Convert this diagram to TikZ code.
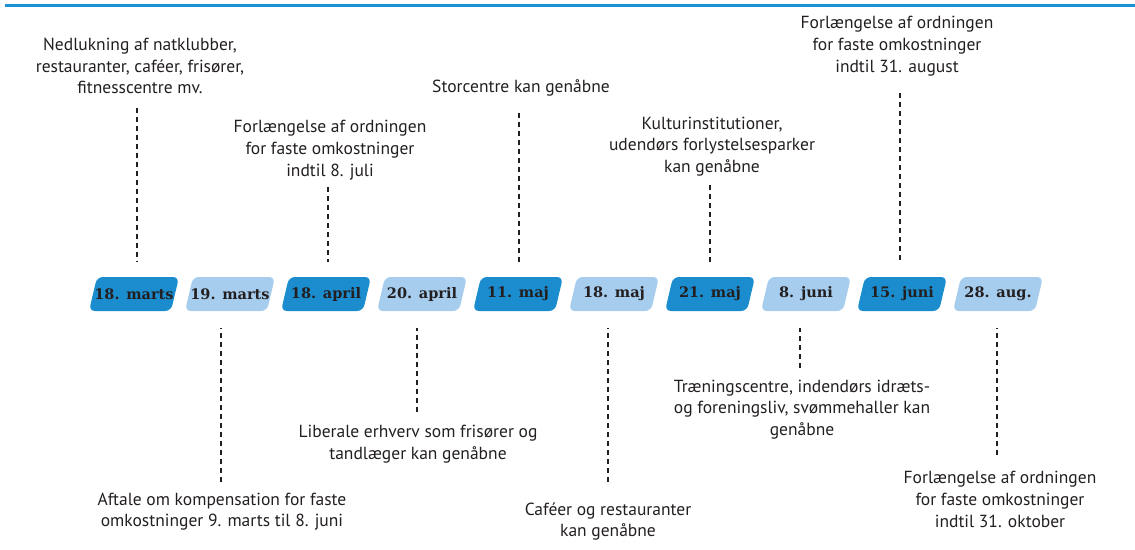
\documentclass[tikz,border=0pt]{standalone}
\usepackage{fontspec}
\setmainfont{PT Sans}
\newfontfamily\datefont{DejaVu Serif}
\definecolor{rulecol}{RGB}{26,146,212}
\definecolor{darkday}{RGB}{27,141,206}
\definecolor{lightday}{RGB}{166,205,238}
\definecolor{inkcol}{RGB}{35,31,32}
\tikzset{
  datelabel/.style={inner sep=0, minimum height=34, text=inkcol,
    font=\datefont\bfseries\fontsize{14.5}{14.5}\selectfont},
  dayshape/.style={rounded corners=6},
  note/.style={align=center, inner sep=0, text=inkcol,
    font=\fontsize{17.5}{21.7}\selectfont},
  guide/.style={draw=inkcol, line width=1.6, dash pattern=on 5 off 4},
}
\begin{document}
\begin{tikzpicture}[x=1pt,y=-1pt]
  \useasboundingbox (0,0) rectangle (1135,549);
  %%%%% top rule %%%%%
  \draw[rulecol, line width=2.2] (5,5.5) -- (1135,5.5);

  %%%%% dates %%%%%
  \foreach \x/\col/\lab [count=\i] in {134/darkday/18. marts, 230/lightday/19. marts,
      326/darkday/18. april, 422/lightday/20. april, 518/darkday/11. maj,
      614/lightday/18. maj, 710/darkday/21. maj, 806/lightday/8. juni,
      902/darkday/15. juni, 998/lightday/28. aug.}{
    \fill[\col, dayshape] (\x-45,311) -- (\x-37,277) -- (\x+45,277) -- (\x+37,311) -- cycle;
    \node[datelabel] (d\i) at (\x,294) {\lab};
  }

  %%%%% notes above %%%%%
  \node[note] (t1) at (140,66) {Nedlukning af natklubber,\\restauranter, caféer, frisører,\\fitnesscentre mv.};
  \node[note] (t3) at (330,150) {Forlængelse af ordningen\\for faste omkostninger\\indtil 8. juli};
  \node[note] (t5) at (521,88) {Storcentre kan genåbne};
  \node[note] (t7) at (712,146.5) {Kulturinstitutioner,\\udendørs forlystelsesparker\\kan genåbne};
  \node[note] (t9) at (897,46) {Forlængelse af ordningen\\for faste omkostninger\\indtil 31. august};

  %%%%% notes below %%%%%
  \node[note] (t2) at (222,511.5) {Aftale om kompensation for faste\\omkostninger 9. marts til 8. juni};
  \node[note] (t4) at (418,444) {Liberale erhverv som frisører og\\tandlæger kan genåbne};
  \node[note] (t6) at (608,521.5) {Caféer og restauranter\\kan genåbne};
  \node[note] (t8) at (802,409.5) {Træningscentre, indendørs idræts-\\og foreningsliv, svømmehaller kan\\genåbne};
  \node[note] (t10) at (1000,499.5) {Forlængelse af ordningen\\for faste omkostninger\\indtil 31. oktober};

  %%%%% dashed guides %%%%%
  \coordinate (e1) at (137,108);
  \coordinate (e3) at (328,187);
  \coordinate (e5) at (519,113);
  \coordinate (e7) at (710,185);
  \coordinate (e9) at (900,93);
  \draw[guide, shorten >=15] (e1) -- (e1 |- d1.north);
  \draw[guide, shorten >=15] (e3) -- (e3 |- d3.north);
  \draw[guide, shorten >=15] (e5) -- (e5 |- d5.north);
  \draw[guide, shorten >=15] (e7) -- (e7 |- d7.north);
  \draw[guide, shorten >=15] (e9) -- (e9 |- d9.north);

  \coordinate (e2) at (221,482);
  \coordinate (e4) at (417,412);
  \coordinate (e6) at (608,482);
  \coordinate (e8) at (800,368);
  \coordinate (e10) at (997,455);
  \draw[guide, shorten >=17] (e2) -- (e2 |- d2.south);
  \draw[guide, shorten >=17] (e4) -- (e4 |- d4.south);
  \draw[guide, shorten >=17] (e6) -- (e6 |- d6.south);
  \draw[guide, shorten >=17] (e8) -- (e8 |- d8.south);
  \draw[guide, shorten >=17] (e10) -- (e10 |- d10.south);
\end{tikzpicture}
\end{document}
